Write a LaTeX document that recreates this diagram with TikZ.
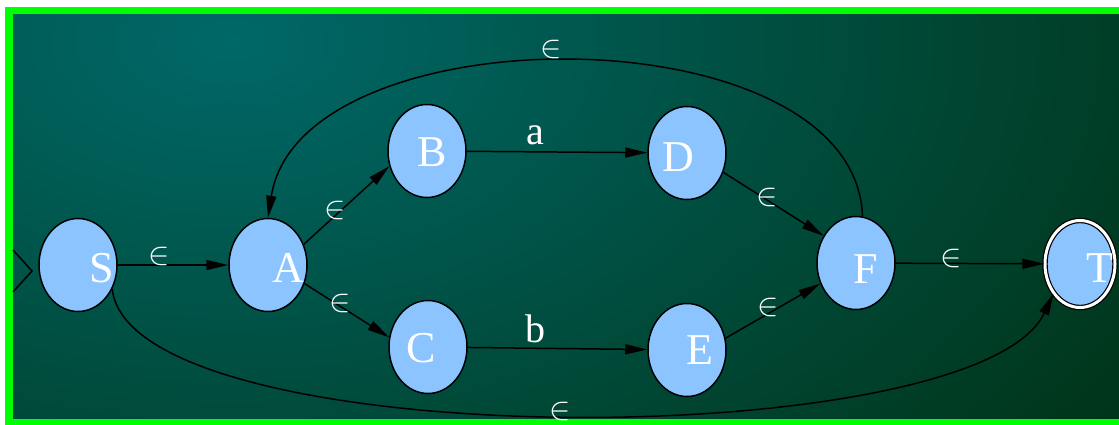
\documentclass[tikz,border=0pt]{standalone}
\usepackage{fontspec}
\setmainfont{Liberation Serif}
\usetikzlibrary{shapes.geometric,arrows.meta}
\definecolor{nodeblue}{RGB}{140,196,255}
\definecolor{bgteal}{RGB}{0,104,104}
\definecolor{bgdark}{RGB}{0,42,8}
\definecolor{framegreen}{RGB}{0,255,0}
\newcommand{\epsym}{\scalebox{3.2}{$\in$}}
\begin{document}
\begin{tikzpicture}[x=1pt,y=-1pt,
  st/.style={ellipse,draw=black,line width=1.5pt,fill=nodeblue,minimum width=78pt,minimum height=93pt,inner sep=0pt},
  acc/.style={st,line width=1.2pt,double=white,double distance=3pt,minimum width=70pt,minimum height=87pt},
  nm/.style={text=white,font=\fontsize{44}{48}\selectfont,inner sep=0pt},
  eps/.style={text=white,inner sep=0pt},
  sym/.style={text=white,font=\fontsize{40}{44}\selectfont,inner sep=0pt},
  tr/.style={line width=1.5pt,-{Triangle[length=22pt,width=10pt]}}
]
\useasboundingbox (0,0) rectangle (1119,425);
% background
\fill[white] (0,0) rectangle (1119,425);
\fill[framegreen] (5,7) rectangle (1119,425);
\begin{scope}
  \clip (13,15) rectangle (1119,418);
  \shade[inner color=bgteal,outer color=bgdark] (230,40) ellipse [x radius=1300pt,y radius=800pt];
\end{scope}
% initial marker
\coordinate (init) at (32,271);
\draw[line width=1.5pt] (13,250) -- (init) -- (13,292);
% states
\node[st,label={[nm,xshift=24pt,yshift=-3pt]center:S}] (S) at (78,265) {};
\node[st,label={[nm,xshift=20pt,yshift=-3pt]center:A}] (A) at (268,265) {};
\node[st,label={[nm,xshift=5pt,yshift=-1pt]center:B}] (B) at (427,151) {};
\node[st,label={[nm,xshift=-7pt,yshift=-1pt]center:C}] (C) at (428,347) {};
\node[st,label={[nm,xshift=-9pt,yshift=-4pt]center:D}] (D) at (687,153) {};
\node[st,label={[nm,xshift=13pt,yshift=0pt]center:E}] (E) at (687,350) {};
\node[st,label={[nm,xshift=10pt,yshift=-6pt]center:F}] (F) at (856,263) {};
\node[acc,label={[nm,xshift=20pt,yshift=-4pt]center:T}] (T) at (1080,264) {};
% transitions
\draw[tr] (S) -- (A);
\draw[tr] (A.30) -- (B.-158);
\draw[tr] (A.-27) -- (C.166);
\draw[tr] (B) -- (D);
\draw[tr] (C) -- (E);
\draw[tr] (D.-28) -- (F.140);
\draw[tr] (E.17) -- (F.-150);
\draw[tr] (F) -- (T);
\draw[tr] (F.82) .. controls (855,10) and (300,10) .. (A.north);
\draw[tr] (S.-35) .. controls (130,456) and (977,456) .. (T.-132);
% labels
\node[eps] (lSA) at (159,256) {\epsym};
\node[eps] (lAB) at (335,210) {\epsym};
\node[eps] (lAC) at (340,303) {\epsym};
\node[sym] (lBD) at (535,135) {a};
\node[sym] (lCE) at (535,329) {b};
\node[eps] (lDF) at (767,197) {\epsym};
\node[eps] (lEF) at (768,307) {\epsym};
\node[eps] (lFT) at (951,258) {\epsym};
\node[eps] (lFA) at (551,50) {\epsym};
\node[eps] (lST) at (560,411) {\epsym};
\end{tikzpicture}
\end{document}
